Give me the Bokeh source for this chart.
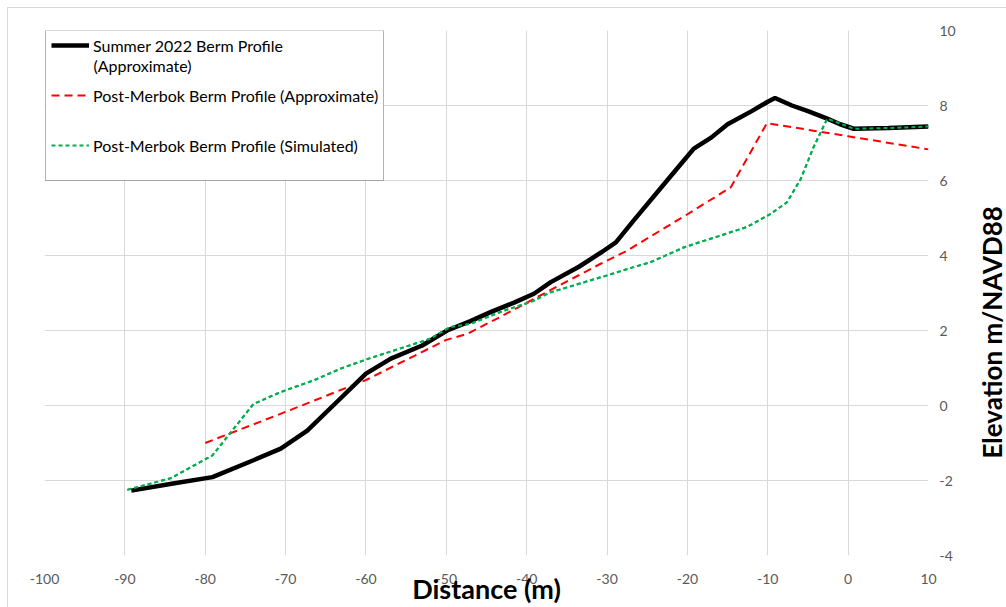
import math
from bokeh.plotting import figure
from bokeh.layouts import row
from bokeh.models import (FixedTicker, Legend, LegendItem, BoxAnnotation, Label)
from bokeh.core.properties import value
from bokeh.embed import file_html
from bokeh.resources import INLINE

# ---- data ----
summer_x = [-89.2, -84, -79.1, -74, -70.6, -67.3, -63.5, -60.0, -56.9, -53, -49.9, -47, -44.5,
            -41.5, -39.1, -37.0, -33.5, -30.6, -28.9, -26.7, -23, -20.5, -19.2, -17, -15, -12,
            -10, -9.1, -7, -5, -2.6, -1, 0.7, 5, 10]
summer_y = [-2.27, -2.08, -1.91, -1.46, -1.15, -0.67, 0.12, 0.85, 1.25, 1.6, 2.0, 2.25, 2.49,
            2.75, 2.98, 3.29, 3.7, 4.1, 4.35, 4.93, 5.88, 6.52, 6.85, 7.15, 7.5, 7.85,
            8.1, 8.2, 8.0, 7.85, 7.65, 7.5, 7.38, 7.4, 7.44]

approx_x = [-80, -70, -60, -50, -47.4, -43.3, -38.7, -34, -30.8, -27.5, -20, -14.6, -10.1, 0, 10]
approx_y = [-1.0, -0.17, 0.68, 1.75, 1.91, 2.36, 2.89, 3.42, 3.78, 4.13, 5.1, 5.82, 7.53, 7.18, 6.83]

sim_x = [-89.7, -84.3, -79.1, -74.0, -70.6, -66.5, -63.2, -59.8, -52.0, -49.5, -47.0, -42.8,
         -39.5, -37.0, -30.0, -26.7, -24.6, -20.4, -12.6, -9.65, -7.6, -5.9, -4.3, -2.6,
         0.7, 5, 10]
sim_y = [-2.25, -1.94, -1.33, 0.04, 0.36, 0.67, 0.98, 1.24, 1.78, 2.09, 2.18, 2.53,
         2.76, 3.02, 3.47, 3.69, 3.82, 4.22, 4.76, 5.11, 5.42, 6.04, 6.89, 7.65,
         7.38, 7.4, 7.44]

x_ticks = [-100, -90, -80, -70, -60, -50, -40, -30, -20, -10, 0, 10]
y_ticks = [-4, -2, 0, 2, 4, 6, 8, 10]

labels = ["Summer 2022 Berm Profile", "(Approximate)",
          "Post-Merbok Berm Profile (Approximate)", "Post-Merbok Berm Profile (Simulated)"]
x_title = "Distance (m)"
y_title = "Elevation m/NAVD88"

FONT = "Lato"
GRAY = "#595959"
BORDER = "#d9d9d9"

p = figure(width=962, height=607, x_range=(-100, 10), y_range=(-4, 10),
           y_axis_location="right", output_backend="svg", toolbar_location=None,
           min_border_left=44, min_border_right=34, min_border_top=30, min_border_bottom=52)
p.frame_width = 884
p.frame_height = 525
p.outline_line_color = None
p.background_fill_color = "white"
p.border_fill_color = None
p.styles = {"background": (f"linear-gradient({BORDER},{BORDER}) 7px 7px / calc(100% - 7px) 1px no-repeat, "
                           f"linear-gradient({BORDER},{BORDER}) 7px 7px / 1px calc(100% - 7px) no-repeat, white")}

for ax in (p.xaxis[0], p.yaxis[0]):
    ax.axis_line_color = None
    ax.major_tick_line_color = None
    ax.minor_tick_line_color = None
    ax.major_label_text_font = FONT
    ax.major_label_text_font_size = "14px"
    ax.major_label_text_color = GRAY

p.xaxis.ticker = FixedTicker(ticks=x_ticks)
p.yaxis.ticker = FixedTicker(ticks=y_ticks)
p.xaxis.major_label_overrides = {t: str(t) for t in x_ticks}
p.yaxis.major_label_overrides = {t: str(t) for t in y_ticks}
p.xaxis.major_label_standoff = 12
p.yaxis.major_label_standoff = 5
p.xaxis.axis_label = x_title
p.xaxis.axis_label_text_font = FONT
p.xaxis.axis_label_text_font_style = "bold"
p.xaxis.axis_label_text_font_size = "27px"
p.xaxis.axis_label_text_color = "black"
p.xaxis.axis_label_standoff = -15

p.xgrid.ticker = FixedTicker(ticks=x_ticks)
p.ygrid.ticker = FixedTicker(ticks=y_ticks)
p.xgrid.grid_line_color = BORDER
p.ygrid.grid_line_color = BORDER

r_sim = p.line(sim_x, sim_y, line_color="#00B050", line_width=2, line_dash="4 3")
r_app = p.line(approx_x, approx_y, line_color="#FF0000", line_width=2, line_dash="8 5")
r_sum = p.line(summer_x, summer_y, line_color="black", line_width=4.5)
# green dots drawn over the black line where they coincide near the crest
p.line(sim_x, sim_y, line_color="#00B050", line_width=2, line_dash="4 3")

# legend box
p.add_layout(BoxAnnotation(left=1, right=383 - 44, top=555 - 30, bottom=555 - 180,
                           left_units="screen", right_units="screen",
                           top_units="screen", bottom_units="screen",
                           fill_color="white", fill_alpha=1, line_color="black", line_width=1))

def add_legend(label, rend, yc):
    lg = Legend(items=[LegendItem(label=label, renderers=[rend])],
                location=(7, 555 - (yc + 10)), padding=0, margin=0, spacing=0,
                glyph_width=38, glyph_height=16, label_height=20, label_standoff=4,
                border_line_alpha=0, background_fill_alpha=0,
                label_text_font=FONT, label_text_font_size="16px", label_text_color="black")
    p.add_layout(lg)

add_legend(labels[0], r_sum, 45)
add_legend(labels[2], r_app, 95)
add_legend(labels[3], r_sim, 145)
p.add_layout(Label(x=93 - 44, y=555 - 65, x_units="screen", y_units="screen",
                   text=labels[1], text_align="left", text_baseline="middle",
                   text_font=FONT, text_font_size="16px", text_color="black"))

# narrow panel on the right holding the vertical axis title
q = figure(width=44, height=607, x_range=(0, 44), y_range=(0, 607),
           output_backend="svg", toolbar_location=None,
           min_border_left=0, min_border_right=0, min_border_top=0, min_border_bottom=0)
q.axis.visible = False
q.grid.visible = False
q.outline_line_color = None
q.background_fill_color = None
q.border_fill_color = None
q.styles = {"background": f"linear-gradient({BORDER},{BORDER}) 0 7px / 100% 1px no-repeat, white"}
q.text(x=[29], y=[607 - 349], text=[y_title], angle=math.pi / 2,
       text_align="center", text_baseline="middle", text_font=value(FONT),
       text_font_style="bold", text_font_size="26px", text_color="black")

layout = row(p, q, spacing=0)
open("out.html", "w").write(file_html(layout, INLINE))
